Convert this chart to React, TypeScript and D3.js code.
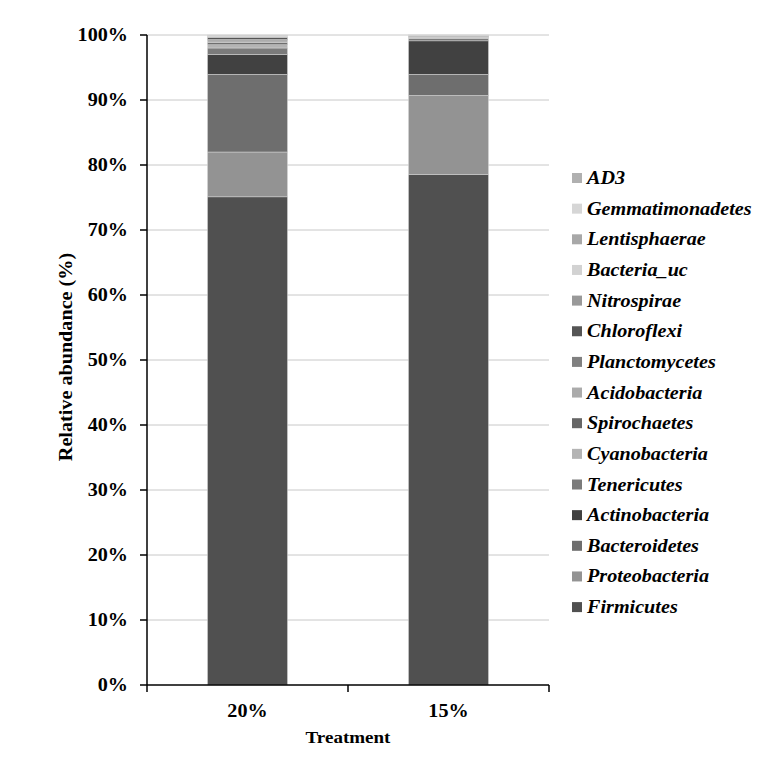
import React from "react";
import * as d3 from "d3";

const treatments = ["20%", "15%"];
const taxa = ["Firmicutes","Proteobacteria","Bacteroidetes","Actinobacteria","Tenericutes","Cyanobacteria","Spirochaetes","Acidobacteria","Planctomycetes","Chloroflexi","Nitrospirae","Bacteria_uc","Lentisphaerae","Gemmatimonadetes","AD3"];
const colors = ["#505050","#939393","#6e6e6e","#414141","#7b7b7b","#b4b4b4","#666666","#ababab","#808080","#555555","#999999","#d2d2d2","#a8a8a8","#d6d6d6","#b0b0b0"];
const values20 = [75.1, 6.9, 11.95, 3.05, 1.0, 0.5, 0.3, 0.3, 0.2, 0.3, 0.15, 0.1, 0.05, 0.05, 0.05];
const values15 = [78.5, 12.2, 3.25, 5.15, 0.4, 0.1, 0.05, 0.1, 0.05, 0.1, 0.03, 0.03, 0.02, 0.01, 0.01];
const yTicks = [0,10,20,30,40,50,60,70,80,90,100];

const font = "'Liberation Serif', 'Times New Roman', serif";
const SX = 1.12;

function T({ x, y, rot = 0, anchor = "start", size, italic = false, weight = "bold", children }: any) {
  return (
    <g transform={`translate(${x},${y}) rotate(${rot}) scale(${SX},1)`}>
      <text x={0} y={0} textAnchor={anchor} fontFamily={font} fontWeight={weight} fontStyle={italic ? "italic" : "normal"} fontSize={size}>{children}</text>
    </g>
  );
}

export default function App() {
  const W = 784, H = 761;
  const x0 = 147, x1 = 549, yTop = 35, yBot = 685;
  const y = d3.scaleLinear().domain([0, 100]).range([yBot, yTop]);
  const x = d3.scaleBand().domain(treatments).range([x0, x1]).paddingInner(0.602).paddingOuter(0.301);
  const series = [values20, values15];
  const stack = d3.stack<any>().keys(taxa.map((_, i) => String(i)))(
    treatments.map((t, ti) => {
      const row: any = { t };
      const tot = d3.sum(series[ti]);
      series[ti].forEach((v, i) => (row[String(i)] = (v / tot) * 100));
      return row;
    })
  );
  const legendY0 = 178, legendStep = 30.65;
  const legendOrder = taxa.map((_, i) => i).reverse();
  return (
    <svg width={W} height={H} style={{ position: "absolute", left: 0, top: 0, background: "#fff" }}>
      {yTicks.filter(t => t > 0).map(t => (
        <line key={t} x1={x0} x2={x1} y1={y(t)} y2={y(t)} stroke="#c8c8c8" strokeWidth={1} />
      ))}
      {stack.map((layer, li) =>
        layer.map((d, di) => (
          <rect key={li + "-" + di} x={x(treatments[di])} width={x.bandwidth()} y={y(d[1])} height={Math.max(0, y(d[0]) - y(d[1]))}
            fill={colors[li]} stroke="#d8d8d8" strokeWidth={0.5} />
        ))
      )}
      <line x1={x0} x2={x0} y1={yTop} y2={yBot} stroke="#000" strokeWidth={1.5} />
      <line x1={x0} x2={x1} y1={yBot} y2={yBot} stroke="#000" strokeWidth={1.5} />
      {yTicks.map(t => (
        <g key={t}>
          <line x1={x0 - 7} x2={x0} y1={y(t)} y2={y(t)} stroke="#000" strokeWidth={1.5} />
          <T x={128} y={y(t) + 6} anchor="end" size={18}>{t}%</T>
        </g>
      ))}
      {[x0, (x0 + x1) / 2, x1].map((v, i) => (
        <line key={i} x1={v} x2={v} y1={yBot} y2={yBot + 7} stroke="#000" strokeWidth={1.5} />
      ))}
      {treatments.map(t => (
        <T key={t} x={(x(t) as number) + x.bandwidth() / 2} y={717} anchor="middle" size={18}>{t}</T>
      ))}
      <T x={(x0 + x1) / 2} y={743} anchor="middle" size={17}>Treatment</T>
      <T x={72} y={357} rot={-90} anchor="middle" size={18}>Relative abundance (%)</T>
      {legendOrder.map((i, k) => (
        <g key={i}>
          <rect x={572} y={legendY0 + k * legendStep - 5} width={10} height={10} fill={colors[i]} />
          <T x={587} y={legendY0 + k * legendStep + 6} size={18} italic>{taxa[i]}</T>
        </g>
      ))}
    </svg>
  );
}
